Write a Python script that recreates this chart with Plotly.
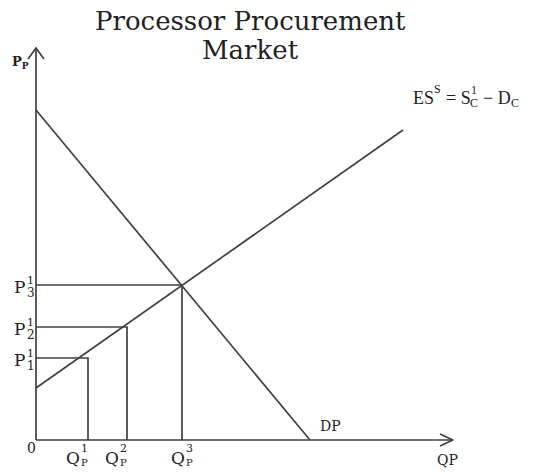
import plotly.graph_objects as go

# Data (chart units: origin at the axes corner)
demand_q = [0, 274]
demand_p = [330, 0]
supply_q = [0, 367]
supply_p = [52, 310]

eq_q = [52, 91, 146]
eq_p = [82, 113, 155]
price_sup = ["1", "1", "1"]
price_sub = ["1", "2", "3"]
qty_sup = ["1", "2", "3"]
qty_sub = ["P", "P", "P"]

q_max = 417
p_max = 392

LINE = "#404040"
SERIF = "DejaVu Serif, Liberation Serif, serif"
TIMES = "Liberation Serif, Times New Roman, serif"

fig = go.Figure()


def seg(xs, ys, width=1.7):
    fig.add_trace(go.Scatter(x=xs, y=ys, mode="lines",
                             line=dict(color=LINE, width=width),
                             hoverinfo="skip", showlegend=False))


def label(x, y, text, size, anchor="center", family=SERIF, height=None):
    fig.add_annotation(x=x, y=y, xref="x", yref="y", text=text,
                       showarrow=False, xanchor=anchor, yanchor="middle",
                       borderpad=0, height=height,
                       font=dict(family=family, size=size, color="#222"))


# axes with open arrow heads
seg([0, q_max], [0, 0])
seg([q_max - 13, q_max, q_max - 13], [6, 0, -6])
seg([0, 0], [0, p_max])
seg([-8, 0, 8], [p_max - 11, p_max, p_max - 11])

# demand and excess supply curves
seg(demand_q, demand_p)
seg(supply_q, supply_p)

# guide lines for each equilibrium
for q, p in zip(eq_q, eq_p):
    seg([0, q, q], [p, p, 0])

# price labels on the vertical axis
for p, sup, sub in zip(eq_p, price_sup, price_sub):
    label(-17, p - 2, "P", 17)
    label(-10, p + 5, sup, 11, "left")
    label(-10, p - 8, sub, 12, "left")

# quantity labels under the horizontal axis
q_off = [-15, -15, -4]
for q, off, sup, sub in zip(eq_q, q_off, qty_sup, qty_sub):
    label(q + off, -18, "Q", 17)
    label(q + off + 7, -8, sup, 11, "left")
    label(q + off + 7, -22, sub, 10, "left")

label(-5, -8, "0", 14)
label(-16, 378, "<b>P<sub>P</sub></b>", 13)
label(294, 14, "DP", 14)
label(411, -20, "QP", 14)

# ES^S = S_C^1 - D_C, built from pieces so the 1/C are stacked
label(376, 342, "ES", 18, "left", TIMES)
label(397, 351, "S", 12, "left", TIMES)
label(409, 342, "= S", 18, "left", TIMES)
label(434, 350, "1", 12, "left", TIMES)
label(433, 337, "C", 12, "left", TIMES)
label(446, 342, "− D", 18, "left", TIMES)
label(474, 337, "C", 12, "left", TIMES)

# title, two lines
label(214, 419, "Processor Procurement", 26, height=24)
label(214, 390, "Market", 26, height=24)

# the page body adds an 8px margin, so the figure is 8px smaller and the
# ranges are shifted to keep the reference pixel positions
fig.update_layout(
    width=547, height=464, autosize=False,
    margin=dict(l=0, r=0, t=0, b=0),
    paper_bgcolor="white", plot_bgcolor="white",
    xaxis=dict(range=[-28, 519], visible=False, fixedrange=True),
    yaxis=dict(range=[-32, 432], visible=False, fixedrange=True),
)

fig.write_html("out.html")
